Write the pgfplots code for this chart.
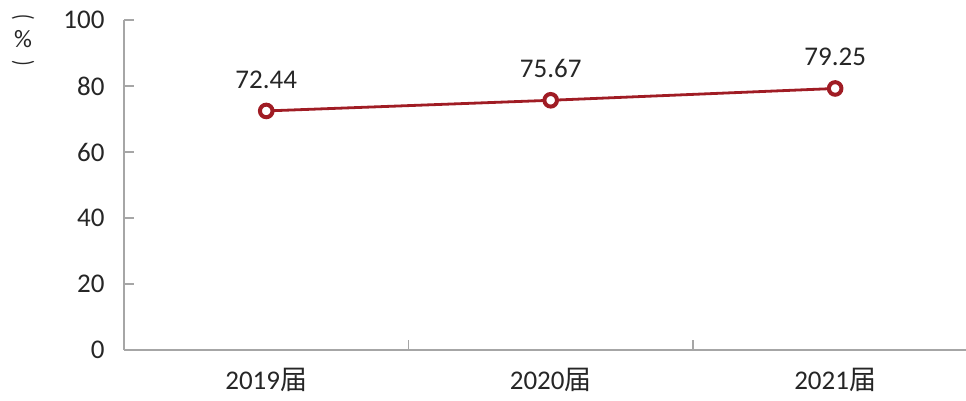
\documentclass[border=0pt]{standalone}
\usepackage{pgfplots}
\pgfplotsset{compat=1.18}
\usepackage{fontspec}
\setmainfont{Carlito}
\newfontfamily\cjk{Noto Sans CJK SC}
\definecolor{linered}{HTML}{A01C24}
\definecolor{axgray}{HTML}{A6A6A6}
\begin{document}
\begin{tikzpicture}[x=1pt,y=1pt]
\useasboundingbox (0,0) rectangle (966,401);
\begin{axis}[
  at={(124pt,51pt)}, anchor=south west,
  scale only axis, width=842pt, height=330pt,
  xmin=-0.5, xmax=2.46, ymin=0, ymax=100,
  axis x line*=bottom, axis y line*=left,
  axis line style={axgray, line width=1.6pt, -},
  xtick={0.5,1.5}, xticklabels={},
  extra x ticks={0,1,2},
  extra x tick labels={2019{\cjk 届},2020{\cjk 届},2021{\cjk 届}},
  extra x tick style={major tick length=0pt, tick label style={yshift=-15pt}},
  ytick={0,20,40,60,80,100},
  tick style={axgray, line width=1.4pt},
  major tick length=10pt,
  tick align=inside,
  ticklabel style={font=\fontsize{27}{30}\selectfont, text=black!85},
  yticklabel style={xshift=-16pt},
  /pgf/number format/assume math mode=true,
  clip=false,
  nodes near coords,
  nodes near coords style={font=\fontsize{27}{30}\selectfont, text=black!85, anchor=south, yshift=17pt, /pgf/number format/fixed, /pgf/number format/precision=2, /pgf/number format/fixed zerofill},
]
\addplot[color=linered, line width=2.8pt, mark=*, mark size=6.3pt,
  mark options={fill=white, draw=linered, line width=4pt}]
  coordinates {(0,72.44) (1,75.67) (2,79.25)};
\end{axis}
\node[font=\fontsize{26}{28}\selectfont, text=black!85, inner sep=0pt, rotate=-90, xscale=0.7] at (23,384) {(};
\node[font=\fontsize{25}{28}\selectfont, text=black!85, inner sep=0pt] at (23,362) {\%};
\node[font=\fontsize{26}{28}\selectfont, text=black!85, inner sep=0pt, rotate=-90, xscale=0.7] at (23,338) {)};
\end{tikzpicture}
\end{document}
